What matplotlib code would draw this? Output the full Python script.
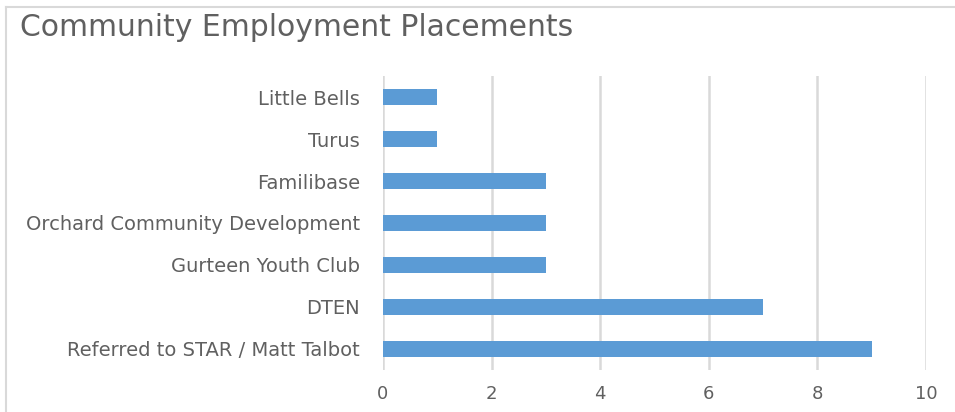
import matplotlib.pyplot as plt
from matplotlib.lines import Line2D

# data, top to bottom as in the chart
categories = ['Little Bells', 'Turus', 'Familibase', 'Orchard Community Development',
              'Gurteen Youth Club', 'DTEN', 'Referred to STAR / Matt Talbot']
placements = [1, 1, 3, 3, 3, 7, 9]
xticks = [0, 2, 4, 6, 8, 10]

plt.rcParams['font.family'] = ['DejaVu Sans']

fig = plt.figure(figsize=(9.55, 4.12), dpi=100)
ax = fig.add_axes([0.401, 0.102, 0.5685, 0.7135])

ypos = list(range(len(categories)))[::-1]
ax.barh(ypos, placements, height=0.36, color='#5b9bd5', zorder=3)

ax.set_xlim(0, 10)
ax.set_ylim(-0.5, len(categories) - 0.5)
ax.set_xticks(xticks)
ax.set_xticklabels([str(t) for t in xticks], fontsize=13, color='#606060')
ax.set_yticks(ypos)
ax.set_yticklabels(categories, fontsize=14, color='#606060')
ax.tick_params(axis='both', length=0)
ax.tick_params(axis='x', pad=11)
ax.tick_params(axis='y', pad=16.5)

ax.grid(axis='x', color='#d9d9d9', linewidth=1.8, zorder=0)
for s in ax.spines.values():
    s.set_visible(False)

fig.text(0.021, 0.912, 'Community Employment Placements', fontsize=21.5, color='#606060')

# chart frame: top and left edges
fig.add_artist(Line2D([6 / 955, 1], [1 - 7 / 412, 1 - 7 / 412], color='#d9d9d9', linewidth=1.5))
fig.add_artist(Line2D([6 / 955, 6 / 955], [0, 1 - 7 / 412], color='#d9d9d9', linewidth=1.5))

fig.savefig('out.png', dpi=100)
